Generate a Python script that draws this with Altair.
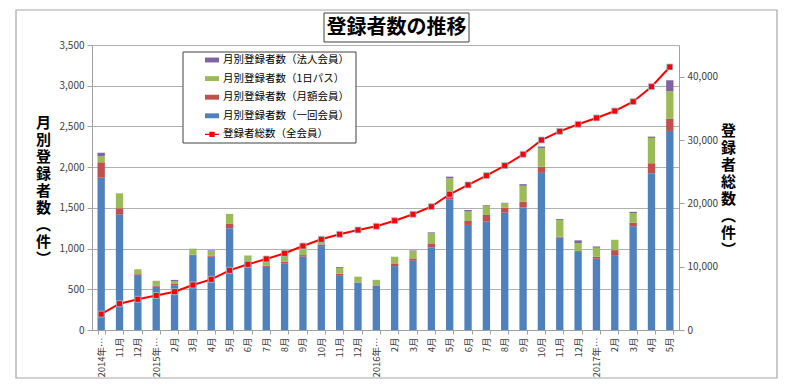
import altair as alt
import pandas as pd

# ---------------- data ----------------
months = ["2014年…", "11月", "12月",
          "2015年…", "2月", "3月", "4月", "5月", "6月", "7月", "8月", "9月", "10月", "11月", "12月",
          "2016年…", "2月", "3月", "4月", "5月", "6月", "7月", "8月", "9月", "10月", "11月", "12月",
          "2017年…", "2月", "3月", "4月", "5月"]

ikkai = [1870, 1420, 675, 530, 550, 920, 900, 1250, 840, 775, 820, 900, 1030, 665, 580, 545,
         785, 850, 1015, 1605, 1290, 1330, 1440, 1505, 1930, 1135, 960, 875, 920, 1275, 1925, 2445]
getsugaku = [190, 75, 10, 17, 16, 5, 10, 53, 5, 15, 20, 20, 20, 25, 5, 5,
             33, 29, 49, 86, 49, 82, 61, 69, 74, 10, 10, 25, 61, 41, 123, 147]
ichinichi = [75, 184, 61, 58, 33, 74, 60, 123, 70, 90, 123, 130, 60, 70, 70, 66,
             82, 86, 123, 172, 115, 115, 53, 197, 229, 205, 98, 110, 127, 119, 311, 340]
houjin = [42, 0, 0, 0, 16, 0, 8, 0, 0, 0, 0, 5, 10, 12, 0, 0,
          0, 12, 12, 20, 20, 8, 8, 20, 20, 12, 33, 16, 0, 16, 16, 135]
total = [2500, 4150, 4850, 5450, 6050, 7100, 8000, 9420, 10370, 11210, 12110, 13260, 14320, 15110,
         15790, 16370, 17260, 18270, 19470, 21430, 22900, 24370, 25950, 27740, 30000, 31370,
         32480, 33480, 34580, 36050, 38420, 41530]

series_names = ["月別登録者数（法人会員）", "月別登録者数（1日パス）", "月別登録者数（月額会員）",
                "月別登録者数（一回会員）", "登録者総数（全会員）"]
series_colors = ["#8064A2", "#9BBB59", "#C0504D", "#4F81BD", "#FF0000"]

chart_title = "登録者数の推移"
left_title = ["月", "別", "登", "録", "者", "数", "︵", "件", "︶"]
right_title = ["登", "録", "者", "総", "数", "︵", "件", "︶"]

# ---------------- tables ----------------
bar_series = [(series_names[3], ikkai, 0), (series_names[2], getsugaku, 1),
              (series_names[1], ichinichi, 2), (series_names[0], houjin, 3)]
rows = []
for name, vals, order in bar_series:
    for i, v in enumerate(vals):
        rows.append({"idx": i, "系列": name, "件数": v, "順": order})
bars_df = pd.DataFrame(rows)
line_df = pd.DataFrame({"idx": list(range(len(months))), "総数": total, "系列": series_names[4]})

FONT = "Noto Sans CJK JP"
label_expr = "[" + ",".join("'" + m + "'" for m in months) + "][datum.value]"

RECT_PATH = "M-1,-0.35H1V0.35H-1Z"
LINE_PATH = "M-1,-0.1H-0.38V-0.38H0.38V-0.1H1V0.1H0.38V0.38H-0.38V0.1H-1Z"

color_scale = alt.Scale(domain=series_names, range=series_colors)
shape_scale = alt.Scale(domain=series_names, range=[RECT_PATH] * 4 + [LINE_PATH])
legend = alt.Legend(
    title=None, orient="none", legendX=113, legendY=8, padding=0,
    labelFont=FONT, labelFontSize=10.5, labelColor="#000000", labelOffset=4,
    symbolSize=196, rowPadding=5.6, symbolType=RECT_PATH, symbolStrokeWidth=0,
    symbolOpacity=1,
)

x_enc = alt.X("idx:O", title=None,
              scale=alt.Scale(paddingInner=0.6, paddingOuter=0.3),
              axis=alt.Axis(labelExpr=label_expr, labelAngle=-90, labelFont=FONT, labelFontSize=9.5,
                            labelColor="#404040", labelPadding=3, tickSize=4, tickColor="#A0A0A0",
                            domainColor="#A0A0A0", tickBand="extent", grid=False))

bars = alt.Chart(bars_df).mark_bar().encode(
    x=x_enc,
    y=alt.Y("件数:Q", stack="zero",
            scale=alt.Scale(domain=[0, 3500], nice=False),
            axis=alt.Axis(values=list(range(0, 3501, 500)), format=",d", title=left_title,
                          titleAngle=0, titleX=-49, titleY=77, titleAlign="center",
                          titleBaseline="middle", titleFontSize=15, titleLineHeight=17,
                          titleFont=FONT, titleFontWeight="bold", titleColor="#000000",
                          labelFont=FONT, labelFontSize=10, labelColor="#404040",
                          tickSize=5, tickColor="#A0A0A0", domainColor="#A0A0A0",
                          grid=True, gridColor="#B0B0B0", labelPadding=3)),
    color=alt.Color("系列:N", scale=color_scale, legend=legend),
    order=alt.Order("順:Q", sort="ascending"),
)

y_right = alt.Y("総数:Q", scale=alt.Scale(domain=[0, 45000], nice=False),
                axis=alt.Axis(orient="right", values=list(range(0, 45001, 5000)), format=",d",
                              title=right_title, titleAngle=0, titleX=49, titleY=85,
                              titleAlign="center", titleBaseline="middle", titleFontSize=15,
                              titleLineHeight=17, titleFont=FONT, titleFontWeight="bold",
                              titleColor="#000000", labelFont=FONT, labelFontSize=10,
                              labelColor="#404040", tickSize=5, tickColor="#A0A0A0",
                              domainColor="#A0A0A0", grid=False, labelPadding=3))

line = alt.Chart(line_df).mark_line(strokeWidth=2, color="#FF0000").encode(
    x=alt.X("idx:O"),
    y=y_right,
)
points = alt.Chart(line_df).mark_square(size=36, filled=True, fill="#FF0000", stroke="#8FCFE3",
                                        strokeWidth=0.8, opacity=1).encode(
    x=alt.X("idx:O"),
    y=alt.Y("総数:Q"),
)
# invisible layer that only carries the legend symbol shapes
legend_shapes = alt.Chart(line_df).mark_point(size=0, filled=True).encode(
    x=alt.X("idx:O"),
    y=alt.Y("総数:Q"),
    color=alt.Color("系列:N", scale=color_scale, legend=legend),
    shape=alt.Shape("系列:N", scale=shape_scale, legend=legend),
)

one = pd.DataFrame({"t": [chart_title]})
frame = alt.Chart(one).mark_rect(fill=None, stroke="#A6A6A6", strokeWidth=1.2).encode(
    x=alt.value(-76), x2=alt.value(685), y=alt.value(-35), y2=alt.value(333))
title_box = alt.Chart(one).mark_rect(fill="white", stroke="#404040", strokeWidth=1).encode(
    x=alt.value(232), x2=alt.value(377), y=alt.value(-32), y2=alt.value(-3))
title_text = alt.Chart(one).mark_text(font=FONT, fontSize=20, fontWeight="bold", color="#000000",
                                      align="center", baseline="middle").encode(
    x=alt.value(304.5), y=alt.value(-17), text="t:N")
legend_box = alt.Chart(one).mark_rect(fill="white", stroke="#404040", strokeWidth=1).encode(
    x=alt.value(91), x2=alt.value(264), y=alt.value(7), y2=alt.value(98))

bars_layer = alt.layer(bars, legend_box)
line_layer = alt.layer(line, points, legend_shapes)

chart = alt.layer(frame, bars_layer, line_layer, title_box, title_text).resolve_scale(
    y="independent"
).properties(
    width=587, height=285,
    autosize=alt.AutoSizeParams(type="none"),
    padding={"left": 84, "top": 37, "right": 110, "bottom": 56},
).configure_view(stroke=None).configure(font=FONT)

chart.save("out.html", embed_options={"renderer": "svg", "actions": False})
